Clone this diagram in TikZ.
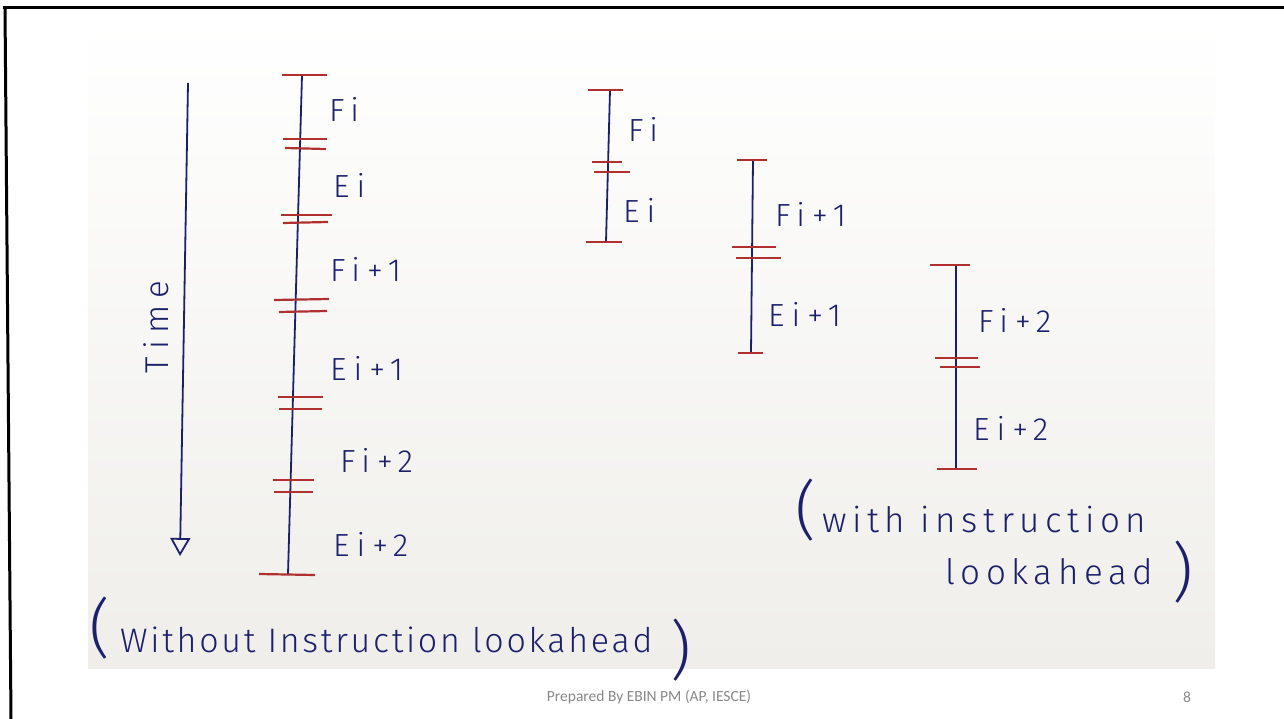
\documentclass[tikz,border=0pt]{standalone}
\usepackage{fontspec}
\setmainfont{Fira Sans Light}
\newfontfamily\hand{Fira Sans Light}[LetterSpace=22]
\newfontfamily\handnote{Fira Sans Light}[LetterSpace=8]
\newfontfamily\handwide{Fira Sans Light}[LetterSpace=16]
\newfontfamily\footfont{Carlito}
\usetikzlibrary{arrows.meta}
\definecolor{ink}{HTML}{1C1F6B}
\definecolor{redink}{HTML}{B03030}
\definecolor{footgray}{HTML}{888888}
\definecolor{paper}{HTML}{EFEEEA}
\begin{document}
\begin{tikzpicture}[x=1pt,y=-1pt,
  stem/.style={ink,line width=1.8pt},
  tick/.style={redink,line width=2.2pt},
  lbl/.style={ink,font=\hand\fontsize{32}{34}\selectfont,inner sep=0pt,anchor=base west},
  note/.style={ink,inner sep=0pt,anchor=base west},
  paren/.style={ink,font=\fontsize{64}{66}\selectfont,inner sep=0pt}]
\useasboundingbox (0,0) rectangle (1284,719);
\fill[white] (0,0) rectangle (1284,719);
% photographed sheet
\shade[top color=white,bottom color=paper] (88,20) rectangle (1215,668);
% slide frame
\draw[black,line width=3pt] (3,8) -- (1284,8);
\draw[black,line width=3pt] (5,8) -- (11,719);

% ---- time axis ----
\coordinate (tA) at (188,83);
\coordinate (tB) at (180,556);
\draw[stem,-{Triangle[open,length=18pt,width=20pt,line width=1.8pt]}] (tA) -- (tB);
\node[ink,font=\hand\fontsize{33}{35}\selectfont,rotate=90,inner sep=0pt] (time) at (156,327) {Time};

% ---- sequential execution ----
\coordinate (sA) at (302,75);
\coordinate (sB) at (288,574);
\draw[stem] (sA) -- (sB);
\draw[tick] (282,75) -- (327,75);
\draw[tick] (283,139) -- (327,139);
\draw[tick] (285,148) -- (326,149);
\draw[tick] (281,215) -- (332,215);
\draw[tick] (283,223) -- (328,222);
\draw[tick] (274,300) -- (329,299);
\draw[tick] (279,312) -- (327,311);
\draw[tick] (278,397) -- (323,397);
\draw[tick] (279,409) -- (322,409);
\draw[tick] (273,480) -- (314,480);
\draw[tick] (274,492) -- (313,492);
\draw[tick] (259,574) -- (315,575);
\node[lbl] (f0) at (329,122) {Fi};
\node[lbl] (e0) at (333,198) {Ei};
\node[lbl] (f1) at (330,281) {Fi+1};
\node[lbl] (e1) at (330,380) {Ei+1};
\node[lbl] (f2) at (340,472) {Fi+2};
\node[lbl] (e2) at (333,556) {Ei+2};
\node[paren] (lp1) at (100,628) {(};
\node[note,font=\handnote\fontsize{34}{36}\selectfont] (wo) at (120,652) {Without Instruction lookahead};
\node[paren] (rp1) at (681,650) {)};

% ---- overlapped execution ----
\coordinate (pA) at (610,90);
\coordinate (pB) at (606,242);
\draw[stem] (pA) -- (pB);
\draw[tick] (588,90) -- (623,90);
\draw[tick] (592,162) -- (622,162);
\draw[tick] (594,172) -- (630,172);
\draw[tick] (586,242) -- (622,242);
\node[lbl] (g0) at (628,142) {Fi};
\node[lbl] (h0) at (623,223) {Ei};

\coordinate (qA) at (753,160);
\coordinate (qB) at (751,353);
\draw[stem] (qA) -- (qB);
\draw[tick] (737,160) -- (767,160);
\draw[tick] (732,247) -- (776,247);
\draw[tick] (736,258) -- (781,258);
\draw[tick] (738,353) -- (763,353);
\node[lbl] (g1) at (775,227) {Fi+1};
\node[lbl] (h1) at (768,326) {Ei+1};

\coordinate (rA) at (956,265);
\coordinate (rB) at (956,469);
\draw[stem] (rA) -- (rB);
\draw[tick] (930,265) -- (970,265);
\draw[tick] (935,358) -- (978,358);
\draw[tick] (940,367) -- (980,367);
\draw[tick] (937,469) -- (977,469);
\node[lbl] (g2) at (978,332) {Fi+2};
\node[lbl] (h2) at (973,440) {Ei+2};

\node[paren] (lp2) at (806,510) {(};
\node[note,font=\handwide\fontsize{35}{37}\selectfont] (wi1) at (822,532) {with instruction};
\node[note,font=\handwide\fontsize{35}{37}\selectfont] (wi2) at (945,584) {lookahead};
\node[paren] (rp2) at (1183,572) {)};

% ---- footer ----
\node[footgray,font=\footfont\fontsize{15.5}{17}\selectfont,inner sep=0pt] (foot) at (649,697) {Prepared By EBIN PM (AP, IESCE)};
\node[footgray,font=\footfont\fontsize{15.5}{17}\selectfont,inner sep=0pt] (page) at (1187,697) {8};
\end{tikzpicture}
\end{document}
